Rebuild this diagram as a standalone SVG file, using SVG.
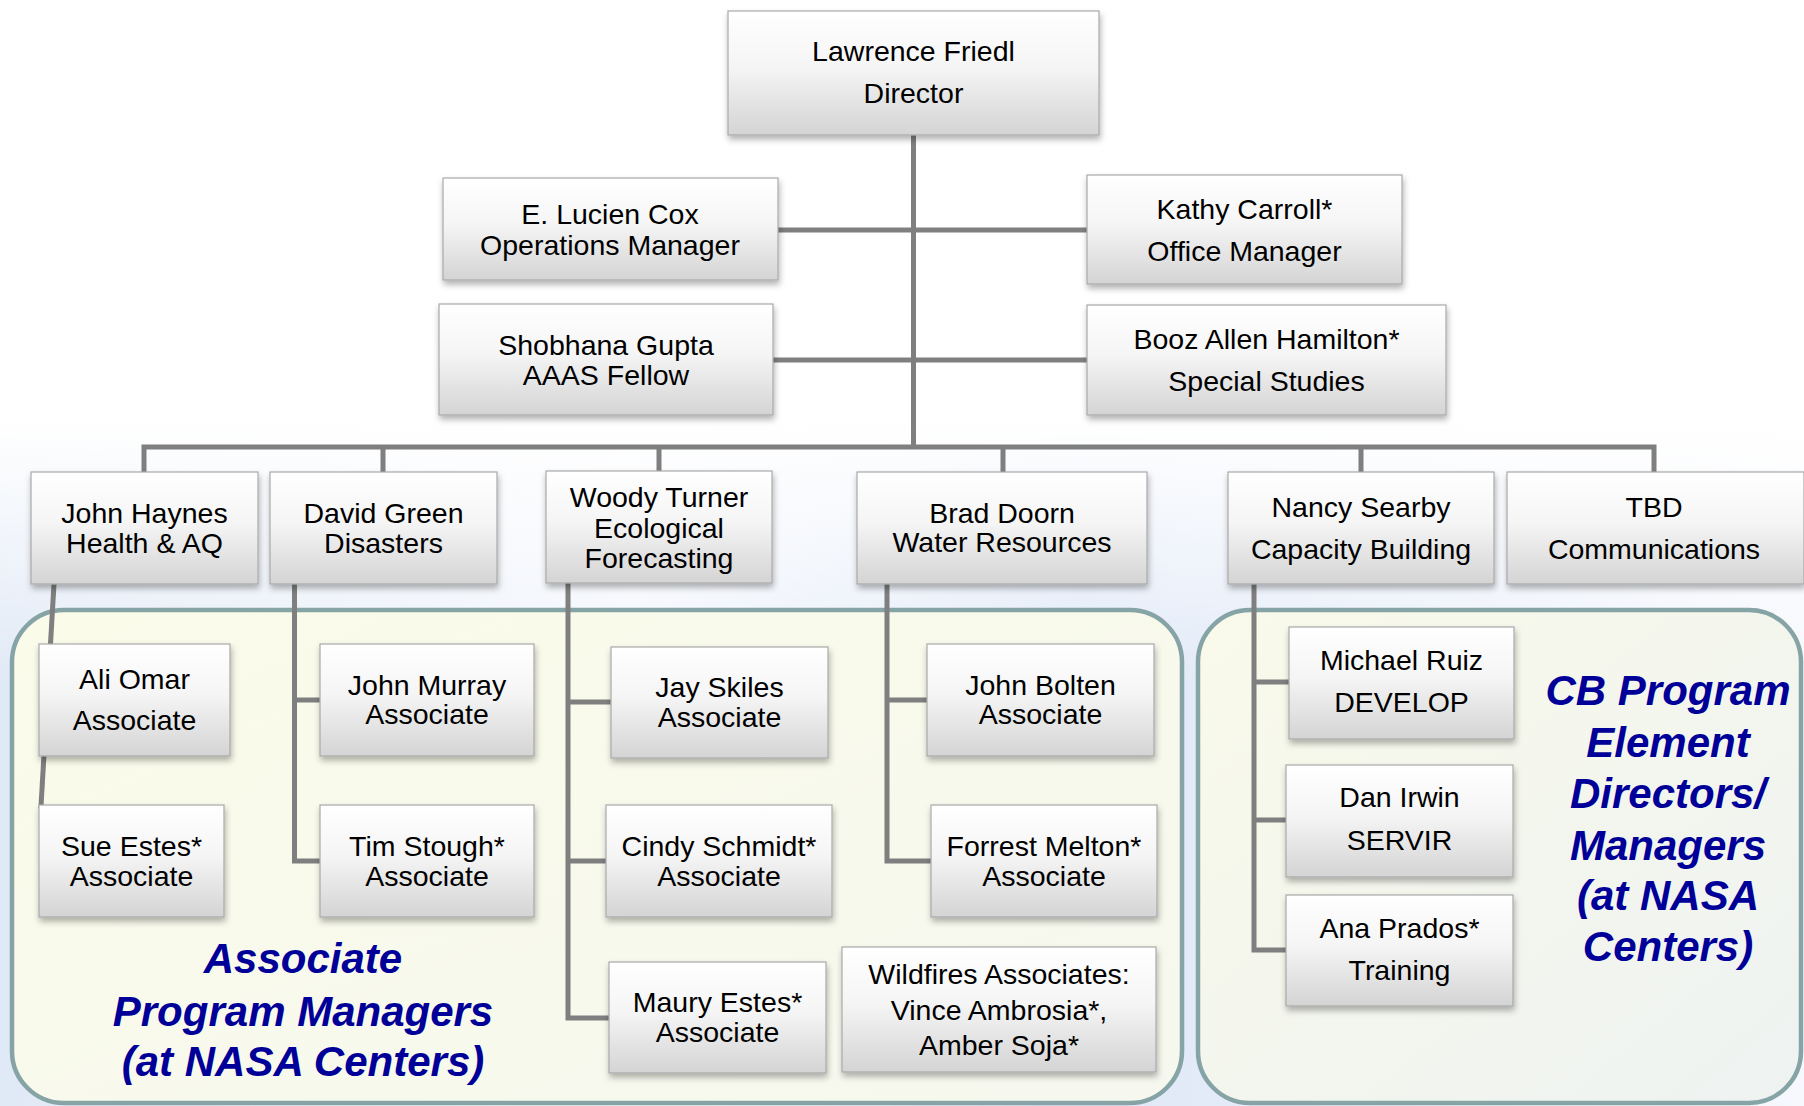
<svg xmlns="http://www.w3.org/2000/svg" width="1804" height="1106" viewBox="0 0 1804 1106">
<defs>
<linearGradient id="bg" x1="0" y1="0" x2="1" y2="0">
<stop offset="0" stop-color="#e0e9f6"/>
<stop offset="0.35" stop-color="#f3f6fc"/>
<stop offset="0.6" stop-color="#dfe8f7"/>
<stop offset="1" stop-color="#f6f8fd"/>
</linearGradient>
<linearGradient id="bgTop" x1="0" y1="0" x2="0" y2="1">
<stop offset="0" stop-color="#ffffff" stop-opacity="1"/>
<stop offset="0.38" stop-color="#ffffff" stop-opacity="1"/>
<stop offset="0.62" stop-color="#ffffff" stop-opacity="0"/>
</linearGradient>
<linearGradient id="panelL" x1="0" y1="0" x2="1" y2="1">
<stop offset="0" stop-color="#fafbe9"/>
<stop offset="1" stop-color="#f6f8ef"/>
</linearGradient>
<linearGradient id="panelR" x1="0" y1="0" x2="1" y2="1">
<stop offset="0" stop-color="#f9faea"/>
<stop offset="1" stop-color="#eef2f1"/>
</linearGradient>
<linearGradient id="boxg" x1="0" y1="0" x2="0" y2="1">
<stop offset="0" stop-color="#ffffff"/>
<stop offset="0.45" stop-color="#f5f5f5"/>
<stop offset="1" stop-color="#d4d4d4"/>
</linearGradient>
<filter id="sh" x="-10%" y="-10%" width="120%" height="130%">
<feDropShadow dx="1" dy="4" stdDeviation="3" flood-color="#000" flood-opacity="0.3"/>
</filter>
</defs>
<style>
.box{fill:url(#boxg);stroke:#a9a9a9;stroke-width:1.2;filter:url(#sh)}
.t{font-family:"Liberation Sans",Arial,sans-serif;font-size:28.5px;fill:#000;text-anchor:middle}
.lbl{font-family:"Liberation Sans",Arial,sans-serif;font-size:42px;font-weight:bold;font-style:italic;fill:#000099;text-anchor:middle}
.con{stroke:#7f7f7f;stroke-width:5;fill:none;stroke-linecap:square}
.panel{stroke:#86a3a5;stroke-width:4.5}
</style>
<rect x="0" y="0" width="1804" height="1106" fill="url(#bg)"/>
<rect x="0" y="0" width="1804" height="1106" fill="url(#bgTop)"/>

<g id="panels">
<rect class="panel" x="12" y="610" width="1170" height="493" rx="52" fill="url(#panelL)"/>
<rect class="panel" x="1198" y="610" width="603" height="493" rx="52" fill="url(#panelR)"/>
</g>

<g id="connectors">
<path class="con" d="M913.5 135 V447 M778 230 H1087 M773 360 H1087 M144 472 V447 H1654 V472 M383 447 V472 M659 447 V471 M1003 447 V472 M1361 447 V472"/>
<path class="con" d="M54 584 L41 806"/>
<path class="con" d="M294.5 584 V861 H320 M294.5 700 H320"/>
<path class="con" d="M568 583 V1018 H610 M568 702 H610 M568 861 H606"/>
<path class="con" d="M887 584 V861 H931 M887 700 H927"/>
<path class="con" d="M1254 584 V950 H1286 M1254 682 H1289 M1254 820 H1286"/>
</g>

<g id="director"><rect class="box" x="728" y="11" width="371" height="124"/><text class="t" x="913.5" y="61">Lawrence Friedl</text><text class="t" x="913.5" y="103">Director</text></g>
<g id="cox"><rect class="box" x="443" y="178" width="335" height="102"/><text class="t" x="610" y="224">E. Lucien Cox</text><text class="t" x="610" y="255">Operations Manager</text></g>
<g id="carroll"><rect class="box" x="1087" y="175" width="315" height="109"/><text class="t" x="1244.5" y="219">Kathy Carroll*</text><text class="t" x="1244.5" y="261">Office Manager</text></g>
<g id="gupta"><rect class="box" x="439" y="304" width="334" height="111"/><text class="t" x="606" y="355">Shobhana Gupta</text><text class="t" x="606" y="385">AAAS Fellow</text></g>
<g id="booz"><rect class="box" x="1087" y="305" width="359" height="110"/><text class="t" x="1266.5" y="349">Booz Allen Hamilton*</text><text class="t" x="1266.5" y="391">Special Studies</text></g>

<g id="haynes"><rect class="box" x="31" y="472" width="227" height="112"/><text class="t" x="144.5" y="523">John Haynes</text><text class="t" x="144.5" y="553">Health &amp; AQ</text></g>
<g id="green"><rect class="box" x="270" y="472" width="227" height="112"/><text class="t" x="383.5" y="523">David Green</text><text class="t" x="383.5" y="553">Disasters</text></g>
<g id="turner"><rect class="box" x="546" y="471" width="226" height="112"/><text class="t" x="659" y="507">Woody Turner</text><text class="t" x="659" y="538">Ecological</text><text class="t" x="659" y="568">Forecasting</text></g>
<g id="doorn"><rect class="box" x="857" y="472" width="290" height="112"/><text class="t" x="1002" y="523">Brad Doorn</text><text class="t" x="1002" y="552">Water Resources</text></g>
<g id="searby"><rect class="box" x="1228" y="472" width="266" height="112"/><text class="t" x="1361" y="517">Nancy Searby</text><text class="t" x="1361" y="559">Capacity Building</text></g>
<g id="tbd"><rect class="box" x="1507" y="472" width="297" height="112"/><text class="t" x="1654" y="517">TBD</text><text class="t" x="1654" y="559">Communications</text></g>

<g id="omar"><rect class="box" x="39" y="644" width="191" height="112"/><text class="t" x="134.5" y="689">Ali Omar</text><text class="t" x="134.5" y="730">Associate</text></g>
<g id="sue"><rect class="box" x="39" y="805" width="185" height="112"/><text class="t" x="131.5" y="856">Sue Estes*</text><text class="t" x="131.5" y="886">Associate</text></g>
<g id="murray"><rect class="box" x="320" y="644" width="214" height="112"/><text class="t" x="427" y="695">John Murray</text><text class="t" x="427" y="724">Associate</text></g>
<g id="stough"><rect class="box" x="320" y="805" width="214" height="112"/><text class="t" x="427" y="856">Tim Stough*</text><text class="t" x="427" y="886">Associate</text></g>
<g id="skiles"><rect class="box" x="611" y="647" width="217" height="111"/><text class="t" x="719.5" y="697">Jay Skiles</text><text class="t" x="719.5" y="727">Associate</text></g>
<g id="schmidt"><rect class="box" x="606" y="805" width="226" height="112"/><text class="t" x="719" y="856">Cindy Schmidt*</text><text class="t" x="719" y="886">Associate</text></g>
<g id="maury"><rect class="box" x="609" y="962" width="217" height="111"/><text class="t" x="717.5" y="1012">Maury Estes*</text><text class="t" x="717.5" y="1042">Associate</text></g>
<g id="wildfires"><rect class="box" x="842" y="947" width="314" height="125"/><text class="t" x="999" y="984">Wildfires Associates:</text><text class="t" x="999" y="1020">Vince Ambrosia*,</text><text class="t" x="999" y="1055">Amber Soja*</text></g>
<g id="bolten"><rect class="box" x="927" y="644" width="227" height="112"/><text class="t" x="1040.5" y="695">John Bolten</text><text class="t" x="1040.5" y="724">Associate</text></g>
<g id="melton"><rect class="box" x="931" y="805" width="226" height="112"/><text class="t" x="1044" y="856">Forrest Melton*</text><text class="t" x="1044" y="886">Associate</text></g>

<g id="ruiz"><rect class="box" x="1289" y="627" width="225" height="112"/><text class="t" x="1401.5" y="670">Michael Ruiz</text><text class="t" x="1401.5" y="712">DEVELOP</text></g>
<g id="irwin"><rect class="box" x="1286" y="765" width="227" height="112"/><text class="t" x="1399.5" y="807">Dan Irwin</text><text class="t" x="1399.5" y="850">SERVIR</text></g>
<g id="prados"><rect class="box" x="1286" y="895" width="227" height="111"/><text class="t" x="1399.5" y="938">Ana Prados*</text><text class="t" x="1399.5" y="980">Training</text></g>

<g id="label-apm"><text class="lbl" x="303" y="973">Associate</text><text class="lbl" x="303" y="1026">Program Managers</text><text class="lbl" x="303" y="1076">(at NASA Centers)</text></g>
<g id="label-cb"><text class="lbl" x="1668" y="705">CB Program</text><text class="lbl" x="1668" y="757">Element</text><text class="lbl" x="1668" y="808">Directors/</text><text class="lbl" x="1668" y="860">Managers</text><text class="lbl" x="1668" y="910">(at NASA</text><text class="lbl" x="1668" y="961">Centers)</text></g>
</svg>
